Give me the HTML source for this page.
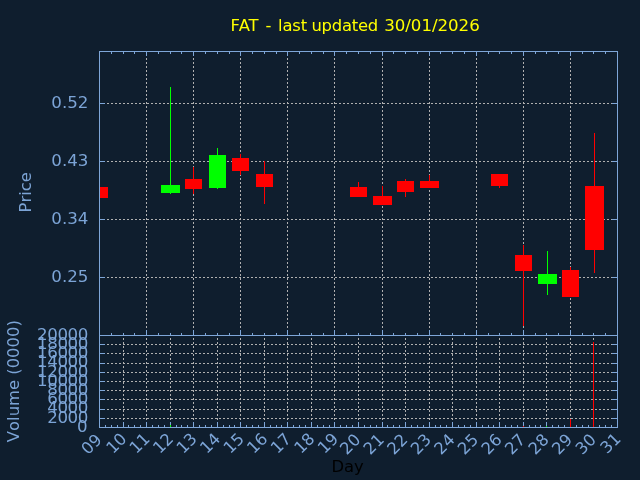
<!DOCTYPE html>
<html><head><meta charset="utf-8"><title>FAT</title>
<style>
html,body{margin:0;padding:0;background:#0f1e2e;}
body{width:640px;height:480px;overflow:hidden;}
svg{display:block;will-change:transform;font-kerning:none;font-family:"DejaVu Sans","Liberation Sans",sans-serif;font-size:16.4px;}
</style></head><body>
<svg width="640" height="480" viewBox="0 0 640 480">
<rect x="0" y="0" width="640" height="480" fill="#0f1e2e"/>
<g stroke="#b0b0b0" stroke-width="1" stroke-dasharray="2 2" shape-rendering="crispEdges" fill="none">
<line x1="99" y1="103.5" x2="617" y2="103.5"/>
<line x1="99" y1="161.5" x2="617" y2="161.5"/>
<line x1="99" y1="219.5" x2="617" y2="219.5"/>
<line x1="99" y1="277.5" x2="617" y2="277.5"/>
<line x1="146.5" y1="52" x2="146.5" y2="335" stroke-dashoffset="2"/>
<line x1="193.5" y1="52" x2="193.5" y2="335" stroke-dashoffset="2"/>
<line x1="240.5" y1="52" x2="240.5" y2="335" stroke-dashoffset="2"/>
<line x1="287.5" y1="52" x2="287.5" y2="335" stroke-dashoffset="2"/>
<line x1="334.5" y1="52" x2="334.5" y2="335" stroke-dashoffset="2"/>
<line x1="382.5" y1="52" x2="382.5" y2="335" stroke-dashoffset="2"/>
<line x1="429.5" y1="52" x2="429.5" y2="335" stroke-dashoffset="2"/>
<line x1="476.5" y1="52" x2="476.5" y2="335" stroke-dashoffset="2"/>
<line x1="523.5" y1="52" x2="523.5" y2="335" stroke-dashoffset="2"/>
<line x1="570.5" y1="52" x2="570.5" y2="335" stroke-dashoffset="2"/>
<line x1="99" y1="418.5" x2="617" y2="418.5"/>
<line x1="99" y1="409.5" x2="617" y2="409.5"/>
<line x1="99" y1="399.5" x2="617" y2="399.5"/>
<line x1="99" y1="390.5" x2="617" y2="390.5"/>
<line x1="99" y1="381.5" x2="617" y2="381.5"/>
<line x1="99" y1="372.5" x2="617" y2="372.5"/>
<line x1="99" y1="363.5" x2="617" y2="363.5"/>
<line x1="99" y1="353.5" x2="617" y2="353.5"/>
<line x1="99" y1="344.5" x2="617" y2="344.5"/>
<line x1="123.5" y1="336" x2="123.5" y2="427" stroke-dashoffset="2"/>
<line x1="146.5" y1="336" x2="146.5" y2="427" stroke-dashoffset="2"/>
<line x1="170.5" y1="336" x2="170.5" y2="427" stroke-dashoffset="2"/>
<line x1="193.5" y1="336" x2="193.5" y2="427" stroke-dashoffset="2"/>
<line x1="217.5" y1="336" x2="217.5" y2="427" stroke-dashoffset="2"/>
<line x1="240.5" y1="336" x2="240.5" y2="427" stroke-dashoffset="2"/>
<line x1="264.5" y1="336" x2="264.5" y2="427" stroke-dashoffset="2"/>
<line x1="287.5" y1="336" x2="287.5" y2="427" stroke-dashoffset="2"/>
<line x1="311.5" y1="336" x2="311.5" y2="427" stroke-dashoffset="2"/>
<line x1="334.5" y1="336" x2="334.5" y2="427" stroke-dashoffset="2"/>
<line x1="358.5" y1="336" x2="358.5" y2="427" stroke-dashoffset="2"/>
<line x1="382.5" y1="336" x2="382.5" y2="427" stroke-dashoffset="2"/>
<line x1="405.5" y1="336" x2="405.5" y2="427" stroke-dashoffset="2"/>
<line x1="429.5" y1="336" x2="429.5" y2="427" stroke-dashoffset="2"/>
<line x1="452.5" y1="336" x2="452.5" y2="427" stroke-dashoffset="2"/>
<line x1="476.5" y1="336" x2="476.5" y2="427" stroke-dashoffset="2"/>
<line x1="499.5" y1="336" x2="499.5" y2="427" stroke-dashoffset="2"/>
<line x1="523.5" y1="336" x2="523.5" y2="427" stroke-dashoffset="2"/>
<line x1="546.5" y1="336" x2="546.5" y2="427" stroke-dashoffset="2"/>
<line x1="570.5" y1="336" x2="570.5" y2="427" stroke-dashoffset="2"/>
<line x1="593.5" y1="336" x2="593.5" y2="427" stroke-dashoffset="2"/>
</g>
<clipPath id="cp"><rect x="100" y="52" width="517" height="283"/></clipPath>
<g shape-rendering="crispEdges" clip-path="url(#cp)">
<rect x="91" y="187" width="17" height="11" fill="#ff0000"/>
<rect x="170" y="87" width="1" height="107" fill="#00ff00"/>
<rect x="161" y="185" width="19" height="8" fill="#00ff00"/>
<rect x="193" y="167" width="1" height="27" fill="#ff0000"/>
<rect x="185" y="179" width="17" height="10" fill="#ff0000"/>
<rect x="217" y="148" width="1" height="41" fill="#00ff00"/>
<rect x="209" y="155" width="17" height="33" fill="#00ff00"/>
<rect x="240" y="154" width="1" height="21" fill="#ff0000"/>
<rect x="232" y="158" width="17" height="13" fill="#ff0000"/>
<rect x="264" y="161" width="1" height="43" fill="#ff0000"/>
<rect x="256" y="174" width="17" height="13" fill="#ff0000"/>
<rect x="358" y="182" width="1" height="15" fill="#ff0000"/>
<rect x="350" y="187" width="17" height="10" fill="#ff0000"/>
<rect x="382" y="186" width="1" height="19" fill="#ff0000"/>
<rect x="373" y="196" width="19" height="9" fill="#ff0000"/>
<rect x="405" y="179" width="1" height="18" fill="#ff0000"/>
<rect x="397" y="181" width="17" height="11" fill="#ff0000"/>
<rect x="429" y="175" width="1" height="13" fill="#ff0000"/>
<rect x="420" y="181" width="19" height="7" fill="#ff0000"/>
<rect x="499" y="174" width="1" height="14" fill="#ff0000"/>
<rect x="491" y="174" width="17" height="12" fill="#ff0000"/>
<rect x="523" y="245" width="1" height="81" fill="#ff0000"/>
<rect x="515" y="255" width="17" height="16" fill="#ff0000"/>
<rect x="547" y="251" width="1" height="44" fill="#00ff00"/>
<rect x="538" y="274" width="19" height="10" fill="#00ff00"/>
<rect x="570" y="267" width="1" height="30" fill="#ff0000"/>
<rect x="562" y="270" width="17" height="27" fill="#ff0000"/>
<rect x="594" y="133" width="1" height="140" fill="#ff0000"/>
<rect x="585" y="186" width="19" height="64" fill="#ff0000"/>
</g>
<g stroke="#7ea6d8" stroke-width="1" shape-rendering="crispEdges">
<line x1="111.5" y1="52" x2="111.5" y2="54"/>
<line x1="111.5" y1="335" x2="111.5" y2="333"/>
<line x1="123.5" y1="52" x2="123.5" y2="54"/>
<line x1="123.5" y1="335" x2="123.5" y2="333"/>
<line x1="134.5" y1="52" x2="134.5" y2="54"/>
<line x1="134.5" y1="335" x2="134.5" y2="333"/>
<line x1="146.5" y1="52" x2="146.5" y2="56"/>
<line x1="146.5" y1="335" x2="146.5" y2="330"/>
<line x1="158.5" y1="52" x2="158.5" y2="54"/>
<line x1="158.5" y1="335" x2="158.5" y2="333"/>
<line x1="170.5" y1="52" x2="170.5" y2="54"/>
<line x1="170.5" y1="335" x2="170.5" y2="333"/>
<line x1="181.5" y1="52" x2="181.5" y2="54"/>
<line x1="181.5" y1="335" x2="181.5" y2="333"/>
<line x1="193.5" y1="52" x2="193.5" y2="56"/>
<line x1="193.5" y1="335" x2="193.5" y2="330"/>
<line x1="205.5" y1="52" x2="205.5" y2="54"/>
<line x1="205.5" y1="335" x2="205.5" y2="333"/>
<line x1="217.5" y1="52" x2="217.5" y2="54"/>
<line x1="217.5" y1="335" x2="217.5" y2="333"/>
<line x1="229.5" y1="52" x2="229.5" y2="54"/>
<line x1="229.5" y1="335" x2="229.5" y2="333"/>
<line x1="240.5" y1="52" x2="240.5" y2="56"/>
<line x1="240.5" y1="335" x2="240.5" y2="330"/>
<line x1="252.5" y1="52" x2="252.5" y2="54"/>
<line x1="252.5" y1="335" x2="252.5" y2="333"/>
<line x1="264.5" y1="52" x2="264.5" y2="54"/>
<line x1="264.5" y1="335" x2="264.5" y2="333"/>
<line x1="276.5" y1="52" x2="276.5" y2="54"/>
<line x1="276.5" y1="335" x2="276.5" y2="333"/>
<line x1="287.5" y1="52" x2="287.5" y2="56"/>
<line x1="287.5" y1="335" x2="287.5" y2="330"/>
<line x1="299.5" y1="52" x2="299.5" y2="54"/>
<line x1="299.5" y1="335" x2="299.5" y2="333"/>
<line x1="311.5" y1="52" x2="311.5" y2="54"/>
<line x1="311.5" y1="335" x2="311.5" y2="333"/>
<line x1="323.5" y1="52" x2="323.5" y2="54"/>
<line x1="323.5" y1="335" x2="323.5" y2="333"/>
<line x1="334.5" y1="52" x2="334.5" y2="56"/>
<line x1="334.5" y1="335" x2="334.5" y2="330"/>
<line x1="346.5" y1="52" x2="346.5" y2="54"/>
<line x1="346.5" y1="335" x2="346.5" y2="333"/>
<line x1="358.5" y1="52" x2="358.5" y2="54"/>
<line x1="358.5" y1="335" x2="358.5" y2="333"/>
<line x1="370.5" y1="52" x2="370.5" y2="54"/>
<line x1="370.5" y1="335" x2="370.5" y2="333"/>
<line x1="382.5" y1="52" x2="382.5" y2="56"/>
<line x1="382.5" y1="335" x2="382.5" y2="330"/>
<line x1="393.5" y1="52" x2="393.5" y2="54"/>
<line x1="393.5" y1="335" x2="393.5" y2="333"/>
<line x1="405.5" y1="52" x2="405.5" y2="54"/>
<line x1="405.5" y1="335" x2="405.5" y2="333"/>
<line x1="417.5" y1="52" x2="417.5" y2="54"/>
<line x1="417.5" y1="335" x2="417.5" y2="333"/>
<line x1="429.5" y1="52" x2="429.5" y2="56"/>
<line x1="429.5" y1="335" x2="429.5" y2="330"/>
<line x1="440.5" y1="52" x2="440.5" y2="54"/>
<line x1="440.5" y1="335" x2="440.5" y2="333"/>
<line x1="452.5" y1="52" x2="452.5" y2="54"/>
<line x1="452.5" y1="335" x2="452.5" y2="333"/>
<line x1="464.5" y1="52" x2="464.5" y2="54"/>
<line x1="464.5" y1="335" x2="464.5" y2="333"/>
<line x1="476.5" y1="52" x2="476.5" y2="56"/>
<line x1="476.5" y1="335" x2="476.5" y2="330"/>
<line x1="488.5" y1="52" x2="488.5" y2="54"/>
<line x1="488.5" y1="335" x2="488.5" y2="333"/>
<line x1="499.5" y1="52" x2="499.5" y2="54"/>
<line x1="499.5" y1="335" x2="499.5" y2="333"/>
<line x1="511.5" y1="52" x2="511.5" y2="54"/>
<line x1="511.5" y1="335" x2="511.5" y2="333"/>
<line x1="523.5" y1="52" x2="523.5" y2="56"/>
<line x1="523.5" y1="335" x2="523.5" y2="330"/>
<line x1="535.5" y1="52" x2="535.5" y2="54"/>
<line x1="535.5" y1="335" x2="535.5" y2="333"/>
<line x1="546.5" y1="52" x2="546.5" y2="54"/>
<line x1="546.5" y1="335" x2="546.5" y2="333"/>
<line x1="558.5" y1="52" x2="558.5" y2="54"/>
<line x1="558.5" y1="335" x2="558.5" y2="333"/>
<line x1="570.5" y1="52" x2="570.5" y2="56"/>
<line x1="570.5" y1="335" x2="570.5" y2="330"/>
<line x1="582.5" y1="52" x2="582.5" y2="54"/>
<line x1="582.5" y1="335" x2="582.5" y2="333"/>
<line x1="593.5" y1="52" x2="593.5" y2="54"/>
<line x1="593.5" y1="335" x2="593.5" y2="333"/>
<line x1="605.5" y1="52" x2="605.5" y2="54"/>
<line x1="605.5" y1="335" x2="605.5" y2="333"/>
<line x1="100" y1="103.5" x2="105" y2="103.5"/>
<line x1="612" y1="103.5" x2="617" y2="103.5"/>
<line x1="100" y1="161.5" x2="105" y2="161.5"/>
<line x1="612" y1="161.5" x2="617" y2="161.5"/>
<line x1="100" y1="219.5" x2="105" y2="219.5"/>
<line x1="612" y1="219.5" x2="617" y2="219.5"/>
<line x1="100" y1="277.5" x2="105" y2="277.5"/>
<line x1="612" y1="277.5" x2="617" y2="277.5"/>
<line x1="100" y1="418.5" x2="105" y2="418.5"/>
<line x1="612" y1="418.5" x2="617" y2="418.5"/>
<line x1="100" y1="409.5" x2="105" y2="409.5"/>
<line x1="612" y1="409.5" x2="617" y2="409.5"/>
<line x1="100" y1="399.5" x2="105" y2="399.5"/>
<line x1="612" y1="399.5" x2="617" y2="399.5"/>
<line x1="100" y1="390.5" x2="105" y2="390.5"/>
<line x1="612" y1="390.5" x2="617" y2="390.5"/>
<line x1="100" y1="381.5" x2="105" y2="381.5"/>
<line x1="612" y1="381.5" x2="617" y2="381.5"/>
<line x1="100" y1="372.5" x2="105" y2="372.5"/>
<line x1="612" y1="372.5" x2="617" y2="372.5"/>
<line x1="100" y1="363.5" x2="105" y2="363.5"/>
<line x1="612" y1="363.5" x2="617" y2="363.5"/>
<line x1="100" y1="353.5" x2="105" y2="353.5"/>
<line x1="612" y1="353.5" x2="617" y2="353.5"/>
<line x1="100" y1="344.5" x2="105" y2="344.5"/>
<line x1="612" y1="344.5" x2="617" y2="344.5"/>
<line x1="105.5" y1="427" x2="105.5" y2="425"/>
<line x1="111.5" y1="427" x2="111.5" y2="425"/>
<line x1="117.5" y1="427" x2="117.5" y2="425"/>
<line x1="123.5" y1="427" x2="123.5" y2="422"/>
<line x1="128.5" y1="427" x2="128.5" y2="425"/>
<line x1="134.5" y1="427" x2="134.5" y2="425"/>
<line x1="140.5" y1="427" x2="140.5" y2="425"/>
<line x1="146.5" y1="427" x2="146.5" y2="422"/>
<line x1="152.5" y1="427" x2="152.5" y2="425"/>
<line x1="158.5" y1="427" x2="158.5" y2="425"/>
<line x1="164.5" y1="427" x2="164.5" y2="425"/>
<line x1="170.5" y1="427" x2="170.5" y2="422"/>
<line x1="176.5" y1="427" x2="176.5" y2="425"/>
<line x1="181.5" y1="427" x2="181.5" y2="425"/>
<line x1="187.5" y1="427" x2="187.5" y2="425"/>
<line x1="193.5" y1="427" x2="193.5" y2="422"/>
<line x1="199.5" y1="427" x2="199.5" y2="425"/>
<line x1="205.5" y1="427" x2="205.5" y2="425"/>
<line x1="211.5" y1="427" x2="211.5" y2="425"/>
<line x1="217.5" y1="427" x2="217.5" y2="422"/>
<line x1="223.5" y1="427" x2="223.5" y2="425"/>
<line x1="229.5" y1="427" x2="229.5" y2="425"/>
<line x1="234.5" y1="427" x2="234.5" y2="425"/>
<line x1="240.5" y1="427" x2="240.5" y2="422"/>
<line x1="246.5" y1="427" x2="246.5" y2="425"/>
<line x1="252.5" y1="427" x2="252.5" y2="425"/>
<line x1="258.5" y1="427" x2="258.5" y2="425"/>
<line x1="264.5" y1="427" x2="264.5" y2="422"/>
<line x1="270.5" y1="427" x2="270.5" y2="425"/>
<line x1="276.5" y1="427" x2="276.5" y2="425"/>
<line x1="281.5" y1="427" x2="281.5" y2="425"/>
<line x1="287.5" y1="427" x2="287.5" y2="422"/>
<line x1="293.5" y1="427" x2="293.5" y2="425"/>
<line x1="299.5" y1="427" x2="299.5" y2="425"/>
<line x1="305.5" y1="427" x2="305.5" y2="425"/>
<line x1="311.5" y1="427" x2="311.5" y2="422"/>
<line x1="317.5" y1="427" x2="317.5" y2="425"/>
<line x1="323.5" y1="427" x2="323.5" y2="425"/>
<line x1="329.5" y1="427" x2="329.5" y2="425"/>
<line x1="334.5" y1="427" x2="334.5" y2="422"/>
<line x1="340.5" y1="427" x2="340.5" y2="425"/>
<line x1="346.5" y1="427" x2="346.5" y2="425"/>
<line x1="352.5" y1="427" x2="352.5" y2="425"/>
<line x1="358.5" y1="427" x2="358.5" y2="422"/>
<line x1="364.5" y1="427" x2="364.5" y2="425"/>
<line x1="370.5" y1="427" x2="370.5" y2="425"/>
<line x1="376.5" y1="427" x2="376.5" y2="425"/>
<line x1="382.5" y1="427" x2="382.5" y2="422"/>
<line x1="387.5" y1="427" x2="387.5" y2="425"/>
<line x1="393.5" y1="427" x2="393.5" y2="425"/>
<line x1="399.5" y1="427" x2="399.5" y2="425"/>
<line x1="405.5" y1="427" x2="405.5" y2="422"/>
<line x1="411.5" y1="427" x2="411.5" y2="425"/>
<line x1="417.5" y1="427" x2="417.5" y2="425"/>
<line x1="423.5" y1="427" x2="423.5" y2="425"/>
<line x1="429.5" y1="427" x2="429.5" y2="422"/>
<line x1="435.5" y1="427" x2="435.5" y2="425"/>
<line x1="440.5" y1="427" x2="440.5" y2="425"/>
<line x1="446.5" y1="427" x2="446.5" y2="425"/>
<line x1="452.5" y1="427" x2="452.5" y2="422"/>
<line x1="458.5" y1="427" x2="458.5" y2="425"/>
<line x1="464.5" y1="427" x2="464.5" y2="425"/>
<line x1="470.5" y1="427" x2="470.5" y2="425"/>
<line x1="476.5" y1="427" x2="476.5" y2="422"/>
<line x1="482.5" y1="427" x2="482.5" y2="425"/>
<line x1="488.5" y1="427" x2="488.5" y2="425"/>
<line x1="493.5" y1="427" x2="493.5" y2="425"/>
<line x1="499.5" y1="427" x2="499.5" y2="422"/>
<line x1="505.5" y1="427" x2="505.5" y2="425"/>
<line x1="511.5" y1="427" x2="511.5" y2="425"/>
<line x1="517.5" y1="427" x2="517.5" y2="425"/>
<line x1="523.5" y1="427" x2="523.5" y2="422"/>
<line x1="529.5" y1="427" x2="529.5" y2="425"/>
<line x1="535.5" y1="427" x2="535.5" y2="425"/>
<line x1="540.5" y1="427" x2="540.5" y2="425"/>
<line x1="546.5" y1="427" x2="546.5" y2="422"/>
<line x1="552.5" y1="427" x2="552.5" y2="425"/>
<line x1="558.5" y1="427" x2="558.5" y2="425"/>
<line x1="564.5" y1="427" x2="564.5" y2="425"/>
<line x1="570.5" y1="427" x2="570.5" y2="422"/>
<line x1="576.5" y1="427" x2="576.5" y2="425"/>
<line x1="582.5" y1="427" x2="582.5" y2="425"/>
<line x1="588.5" y1="427" x2="588.5" y2="425"/>
<line x1="593.5" y1="427" x2="593.5" y2="422"/>
<line x1="599.5" y1="427" x2="599.5" y2="425"/>
<line x1="605.5" y1="427" x2="605.5" y2="425"/>
<line x1="611.5" y1="427" x2="611.5" y2="425"/>
</g>
<g shape-rendering="crispEdges">
<rect x="170" y="425" width="1" height="2" fill="#00ff00"/>
<rect x="523" y="426" width="1" height="1" fill="#ff0000"/>
<rect x="546" y="426" width="1" height="1" fill="#00ff00"/>
<rect x="570" y="419" width="1.3" height="8" fill="#ff0000"/>
<rect x="593" y="342" width="1.3" height="85" fill="#ff0000"/>
</g>
<g fill="#7ea6d8" shape-rendering="crispEdges">
<rect x="99" y="51" width="519" height="1"/>
<rect x="99" y="335" width="519" height="1"/>
<rect x="99" y="427" width="519" height="1"/>
<rect x="99" y="51" width="1" height="377"/>
<rect x="617" y="51" width="1" height="377"/>
</g>
<text y="31" fill="#ffff00"><tspan x="230.5" letter-spacing="-1.3">FAT</tspan> <tspan x="265.5">-</tspan> <tspan x="278.1" letter-spacing="-0.2">last</tspan> <tspan x="311.4" letter-spacing="-0.22">updated</tspan> <tspan x="384.2" font-size="16.67" letter-spacing="-0.05">30/01/2026</tspan></text>
<g fill="#7ca4d6">
<text x="88.4" y="107.8" text-anchor="end" font-size="16.67">0.52</text>
<text x="88.4" y="165.8" text-anchor="end" font-size="16.67">0.43</text>
<text x="88.4" y="223.8" text-anchor="end" font-size="16.67">0.34</text>
<text x="88.4" y="281.8" text-anchor="end" font-size="16.67">0.25</text>
<text x="87.1" y="431.8" text-anchor="end" font-size="16.67" letter-spacing="-0.4">0</text>
<text x="88.0" y="422.6" text-anchor="end" font-size="16.67" letter-spacing="-0.4">2000</text>
<text x="88.0" y="413.4" text-anchor="end" font-size="16.67" letter-spacing="-0.4">4000</text>
<text x="88.0" y="404.2" text-anchor="end" font-size="16.67" letter-spacing="-0.4">6000</text>
<text x="88.0" y="395.0" text-anchor="end" font-size="16.67" letter-spacing="-0.4">8000</text>
<text x="88.0" y="385.8" text-anchor="end" font-size="16.67" letter-spacing="-0.4">10000</text>
<text x="88.0" y="376.6" text-anchor="end" font-size="16.67" letter-spacing="-0.4">12000</text>
<text x="88.0" y="367.4" text-anchor="end" font-size="16.67" letter-spacing="-0.4">14000</text>
<text x="88.0" y="358.2" text-anchor="end" font-size="16.67" letter-spacing="-0.4">16000</text>
<text x="88.0" y="349.0" text-anchor="end" font-size="16.67" letter-spacing="-0.4">18000</text>
<text x="88.0" y="339.8" text-anchor="end" font-size="16.67" letter-spacing="-0.4">20000</text>
<text transform="translate(31.2,192.3) rotate(-90)" text-anchor="middle">Price</text>
<text transform="translate(19.0,381.2) rotate(-90)" text-anchor="middle">Volume (0000)</text>
<text transform="translate(102.8,440.8) rotate(-45)" text-anchor="end">09</text>
<text transform="translate(127.7,439.8) rotate(-45)" text-anchor="end">10</text>
<text transform="translate(150.9,439.8) rotate(-45)" text-anchor="end">11</text>
<text transform="translate(174.4,439.8) rotate(-45)" text-anchor="end">12</text>
<text transform="translate(198.0,439.8) rotate(-45)" text-anchor="end">13</text>
<text transform="translate(221.5,439.8) rotate(-45)" text-anchor="end">14</text>
<text transform="translate(245.1,439.8) rotate(-45)" text-anchor="end">15</text>
<text transform="translate(268.6,439.8) rotate(-45)" text-anchor="end">16</text>
<text transform="translate(292.2,439.8) rotate(-45)" text-anchor="end">17</text>
<text transform="translate(315.7,439.8) rotate(-45)" text-anchor="end">18</text>
<text transform="translate(339.3,439.8) rotate(-45)" text-anchor="end">19</text>
<text transform="translate(361.6,440.7) rotate(-45)" text-anchor="end">20</text>
<text transform="translate(385.1,440.7) rotate(-45)" text-anchor="end">21</text>
<text transform="translate(408.7,440.7) rotate(-45)" text-anchor="end">22</text>
<text transform="translate(432.2,440.7) rotate(-45)" text-anchor="end">23</text>
<text transform="translate(455.8,440.7) rotate(-45)" text-anchor="end">24</text>
<text transform="translate(479.3,440.7) rotate(-45)" text-anchor="end">25</text>
<text transform="translate(502.9,440.7) rotate(-45)" text-anchor="end">26</text>
<text transform="translate(526.4,440.7) rotate(-45)" text-anchor="end">27</text>
<text transform="translate(550.0,440.7) rotate(-45)" text-anchor="end">28</text>
<text transform="translate(573.5,440.7) rotate(-45)" text-anchor="end">29</text>
<text transform="translate(597.1,440.7) rotate(-45)" text-anchor="end">30</text>
<text transform="translate(621.8,439.8) rotate(-45)" text-anchor="end">31</text>
</g>
<text x="347.6" y="471.6" text-anchor="middle" fill="#000000">Day</text>
</svg>
</body></html>
